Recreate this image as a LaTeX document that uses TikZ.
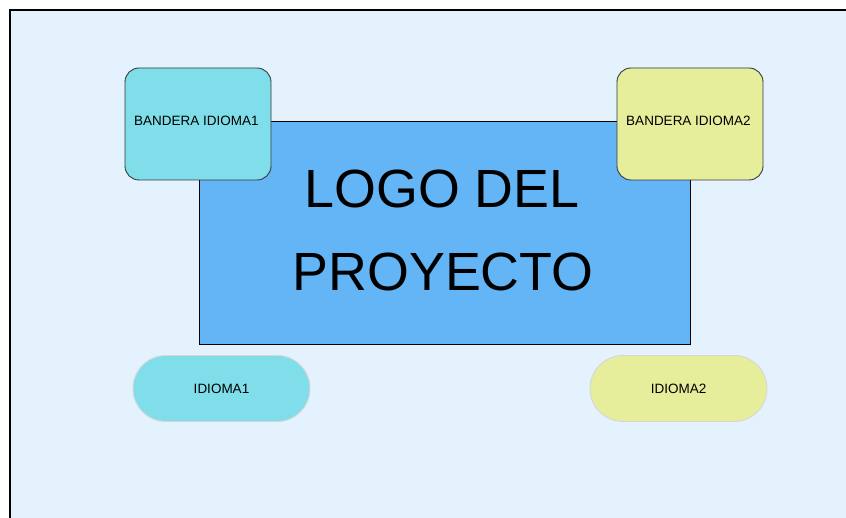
\documentclass[tikz,border=0pt]{standalone}
\usepackage{fontspec}
\setmainfont{Liberation Sans}
\definecolor{bgblue}{HTML}{E3F2FD}
\definecolor{logoblue}{HTML}{64B5F6}
\definecolor{cyanbox}{HTML}{80DEEA}
\definecolor{yellowbox}{HTML}{E6EE9C}
\definecolor{darkedge}{HTML}{36393D}
\definecolor{lightedge}{HTML}{D6D6D6}
\begin{document}
\begin{tikzpicture}[x=1pt,y=-1pt,
  smalltext/.style={font=\fontsize{13.5}{15}\selectfont},
  flagbox/.style={draw=darkedge, line width=0.9pt, rounded corners=14pt, minimum width=146pt, minimum height=112pt, inner sep=0pt},
  pill/.style={draw=lightedge, line width=0.9pt, rounded corners=33pt, minimum width=177pt, minimum height=66pt, inner sep=0pt, smalltext},
  logotext/.style={font=\fontsize{53.8}{54}\selectfont, inner sep=0pt, anchor=base}]
\useasboundingbox (0,0) rectangle (846,518);
\fill[white] (0,0) rectangle (846,518);
\fill[bgblue] (10,10) rectangle (846,518);
\draw[line width=1.3pt] (10,518) -- (10,10) -- (846,10);
% main logo rectangle
\node[draw=black, line width=0.9pt, fill=logoblue, minimum width=491pt, minimum height=223pt, inner sep=0pt] (logo) at (444.5,232.5) {};
\node[logotext] (l1) at (442,208) {LOGO DEL};
\node[logotext] (l2) at (443,291) {PROYECTO};
% flag boxes
\node[flagbox, fill=cyanbox] (flag1) at (198,124) {};
\node[smalltext] (t1) at (196.5,121) {BANDERA IDIOMA1};
\node[flagbox, fill=yellowbox] (flag2) at (690,124) {};
\node[smalltext] (t2) at (688.5,121) {BANDERA IDIOMA2};
% language pills
\node[pill, fill=cyanbox] (lang1) at (221.5,388.5) {IDIOMA1};
\node[pill, fill=yellowbox] (lang2) at (678.5,388.5) {IDIOMA2};
\end{tikzpicture}
\end{document}
